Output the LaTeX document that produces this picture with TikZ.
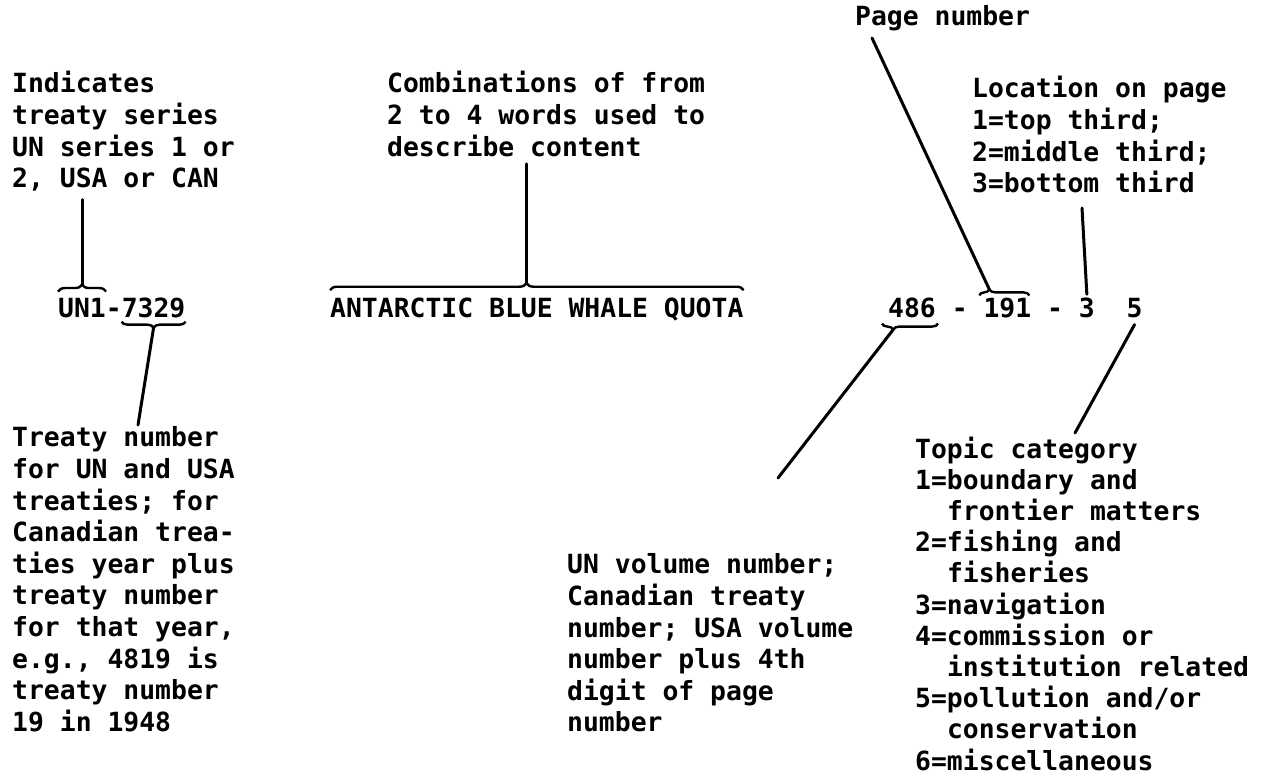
\documentclass[tikz,border=0pt]{standalone}
\usepackage{fontspec}
\newfontfamily\printfont{DejaVu Sans Mono}
\usetikzlibrary{calc,decorations.pathreplacing}

\begin{document}
\begin{tikzpicture}[x=1pt,y=1pt,
    font=\printfont\bfseries\fontsize{26.4}{31.6}\selectfont,
    lbl/.style={anchor=base west,align=left,inner sep=0pt},
    entry/.style={anchor=base west,inner sep=0pt},
    brc/.style={decorate,line width=2.4pt},
    lead/.style={line width=3pt,line cap=round}]
  \useasboundingbox (0,0) rectangle (1266,779);

  % the coded entry
  \node[entry] (series)    at (58,461)     {UN1};
  \node[entry] (dashone)   at (105.7,461)  {-};
  \node[entry] (treatyno)  at (121.6,461)  {7329};
  \node[entry] (quota)     at (330,461)    {ANTARCTIC BLUE WHALE QUOTA};
  \node[entry] (volno)     at (888,461)    {486};
  \node[entry] (dashtwo)   at (951.6,461)  {-};
  \node[entry] (pageno)    at (983.3,461)  {191};
  \node[entry] (dashthree) at (1046.9,461) {-};
  \node[entry] (locno)     at (1078.7,461) {3};
  \node[entry] (topicno)   at (1126.4,461) {5};

  % explanations above (placed by their last line)
  \node[lbl] (ind)     at (12,591.2)  {Indicates\\treaty series\\UN series 1 or\\2, USA or CAN};
  \node[lbl] (comb)    at (387,622.8) {Combinations of from\\2 to 4 words used to\\describe content};
  \node[lbl] (pagelbl) at (855,753)   {Page number};
  \node[lbl] (loc)     at (972,586.2) {Location on page\\1=top third;\\2=middle third;\\3=bottom third};

  % explanations below
  \node[lbl] (tnolbl) at (12,47.6)
    {Treaty number\\for UN and USA\\treaties; for\\Canadian trea-\\ties year plus\\treaty number\\for that year,\\e.g., 4819 is\\treaty number\\19 in 1948};
  \node[lbl] (vollbl) at (567,47)
    {UN volume number;\\Canadian treaty\\number; USA volume\\number plus 4th\\digit of page\\number};
  \node[lbl,font=\printfont\bfseries\fontsize{26.4}{31.2}\selectfont] (topiclbl) at (915,9)
    {Topic category\\1=boundary and\\\phantom{1=}frontier matters\\2=fishing and\\\phantom{1=}fisheries\\3=navigation\\4=commission or\\\phantom{1=}institution related\\5=pollution and/or\\\phantom{1=}conservation\\6=miscellaneous};

  % braces
  \draw[brc,decoration={brace,amplitude=7pt}]
    ([yshift=7pt]series.north west) -- ([yshift=7pt]series.north east);
  \draw[brc,decoration={brace,amplitude=6pt}]
    ([yshift=-3pt]treatyno.south east) -- ([yshift=-3pt]treatyno.south west);
  \draw[brc,decoration={brace,amplitude=7pt,aspect=0.475}]
    ([yshift=8pt]quota.north west) -- ([yshift=8pt]quota.north east);
  \draw[brc,decoration={brace,amplitude=6pt,aspect=0.8}]
    ([xshift=2pt,yshift=-5pt]volno.south east) -- ([xshift=-6pt,yshift=-5pt]volno.south west);
  \draw[brc,decoration={brace,amplitude=6pt,aspect=0.2}]
    ([xshift=-4pt,yshift=3pt]pageno.north west) -- ([xshift=-2pt,yshift=3pt]pageno.north east);

  \coordinate (serpeak)  at ([yshift=14pt]series.north);
  \coordinate (tnopeak)  at ([yshift=-9pt]treatyno.south);
  \coordinate (namepeak) at ($([yshift=15pt]quota.north west)!0.475!([yshift=15pt]quota.north east)$);
  \coordinate (volpeak)  at ($([xshift=2pt,yshift=-11pt]volno.south east)!0.8!([xshift=-6pt,yshift=-11pt]volno.south west)$);
  \coordinate (pagepeak) at ($([xshift=-4pt,yshift=9pt]pageno.north west)!0.2!([xshift=-2pt,yshift=9pt]pageno.north east)$);

  % free ends near the texts
  \coordinate (pagetip)  at (872,741);
  \coordinate (loctip)   at (1082,571);
  \coordinate (tnotip)   at (138,354);
  \coordinate (voltip)   at (778,301);
  \coordinate (topictip) at (1075,346);

  % leaders
  \draw[lead,shorten <=8pt] (ind.south -| serpeak) -- (serpeak);
  \draw[lead] (tnopeak) -- (tnotip);
  \draw[lead,shorten <=7pt] (comb.south -| namepeak) -- (namepeak);
  \draw[lead] (pagetip) -- (pagepeak);
  \draw[lead] (loctip) -- ([yshift=4pt]locno.north);
  \draw[lead] (volpeak) -- (voltip);
  \draw[lead] ([yshift=-6pt]topicno.south) -- (topictip);
\end{tikzpicture}
\end{document}
